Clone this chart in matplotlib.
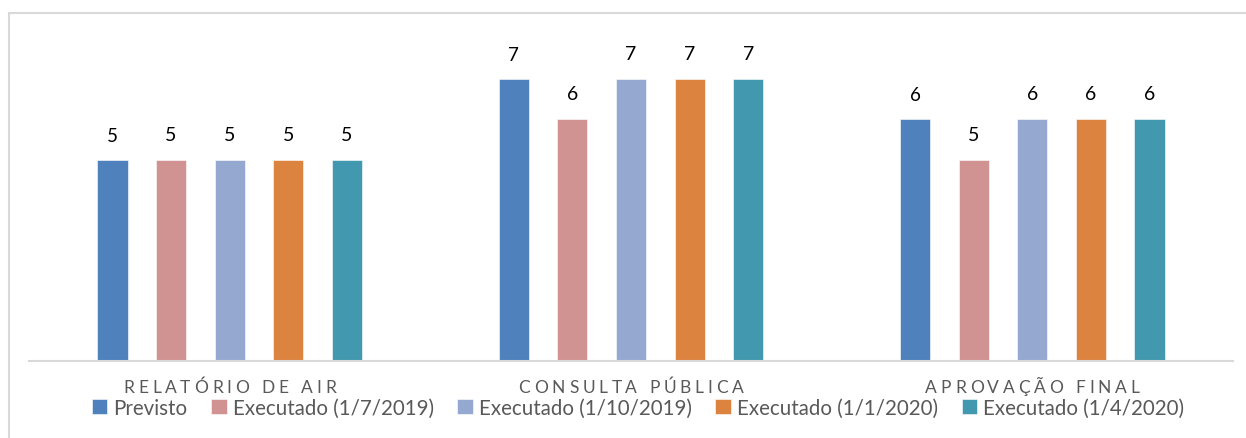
import matplotlib
matplotlib.use("Agg")
import matplotlib.pyplot as plt
import numpy as np
from matplotlib.patches import Rectangle
from matplotlib.font_manager import FontProperties

categories = ["RELATÓRIO DE AIR", "CONSULTA PÚBLICA", "APROVAÇÃO FINAL"]
series_names = ["Previsto", "Executado (1/7/2019)", "Executado (1/10/2019)",
                "Executado (1/1/2020)", "Executado (1/4/2020)"]
values = [
    [5, 7, 6],
    [5, 6, 5],
    [5, 7, 6],
    [5, 7, 6],
    [5, 7, 6],
]
colors = ["#4F81BD", "#D19292", "#95A9D0", "#DC8340", "#4298AE"]

FONT = "Lato"
plt.rcParams['font.family'] = [FONT, 'DejaVu Sans']

fig = plt.figure(figsize=(12.46, 4.39), dpi=100)
# outer frame
fig.patches.append(Rectangle((8.5/1246, -0.05), 1.2, (439-13.5)/439 + 0.05,
                             transform=fig.transFigure, fill=False,
                             edgecolor="#D9D9D9", linewidth=1.5))

ax = fig.add_axes([29/1246, (439-362)/439, 1204/1246, 322.4/439])
x = np.arange(len(categories))
width = 0.075
step = 0.146
for i, (name, vals, c) in enumerate(zip(series_names, values, colors)):
    pos = x + (i - 2) * step
    bars = ax.bar(pos, vals, width, color=c, label=name,
                  edgecolor="white", linewidth=0.4)
    for b, v in zip(bars, vals):
        ax.annotate(str(v), (b.get_x() + b.get_width() / 2, v),
                    xytext=(0, 11.5 if i == 0 else 12.2), textcoords="offset points",
                    ha="center", va="bottom", fontsize=13.5 if i == 0 else 14,
                    color="#000000")

ax.set_xlim(-0.5, 2.5)
ax.set_ylim(0, 8)
ax.set_yticks([])
ax.set_xticks([])
for s in ["top", "right", "left"]:
    ax.spines[s].set_visible(False)
ax.spines["bottom"].set_color("#D9D9D9")
ax.spines["bottom"].set_linewidth(1.5)
ax.patch.set_alpha(0)

# letter-spaced category labels
fig.canvas.draw()
renderer = fig.canvas.get_renderer()
fp = FontProperties(family=FONT, size=12.5)
tracking = 3.8  # px
def char_w(ch):
    if ch == " ":
        w1, _, _ = renderer.get_text_width_height_descent("a a", fp, ismath=False)
        w2, _, _ = renderer.get_text_width_height_descent("aa", fp, ismath=False)
        return w1 - w2
    w, _, _ = renderer.get_text_width_height_descent(ch, fp, ismath=False)
    return w
for xi, cat in zip(x, categories):
    widths = [char_w(ch) for ch in cat]
    total = sum(widths) + tracking * (len(cat) - 1)
    cx = ax.transData.transform((xi, 0))[0]
    cur = cx - total / 2
    for ch, w in zip(cat, widths):
        if ch != " ":
            fig.text((cur + w / 2) / 1246, (439 - 388) / 439, ch,
                     ha="center", va="center", fontproperties=fp, color="#595959")
        cur += w + tracking

leg = fig.legend(loc="center", bbox_to_anchor=(638/1246, (439-409)/439), ncol=5,
                 frameon=False, fontsize=14.8, handlelength=0.75, handleheight=0.75,
                 handletextpad=0.3, columnspacing=1.15, borderaxespad=0)
for t in leg.get_texts():
    t.set_color("#595959")

fig.savefig("out.png", dpi=100)
